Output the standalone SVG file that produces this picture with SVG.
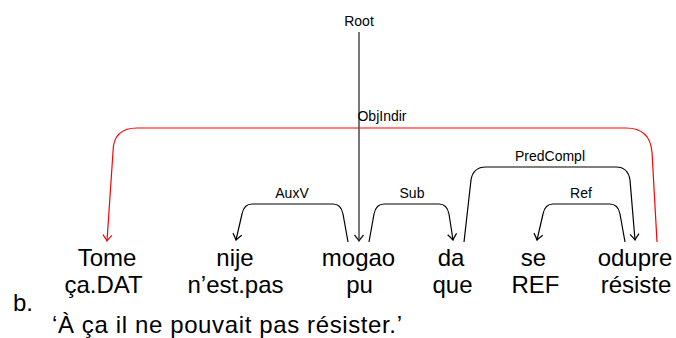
<svg xmlns="http://www.w3.org/2000/svg" width="676" height="338" viewBox="0 0 676 338">
<style>
.w{font-family:"Liberation Sans",Arial,sans-serif;font-size:24px;fill:#000;text-anchor:middle}
.l{font-family:"Liberation Sans",Arial,sans-serif;font-size:14px;fill:#000;text-anchor:middle}
.a{fill:none;stroke:#000;stroke-width:1.2;marker-end:url(#ab)}
.r{fill:none;stroke:#f00;stroke-width:1.2;marker-end:url(#ar)}
.g{fill:none;stroke:#555;stroke-width:1.6;marker-end:url(#ag)}
</style>
<defs>
<marker id="ab" markerUnits="userSpaceOnUse" markerWidth="14" markerHeight="14" viewBox="-8 -7 10 14" refX="0" refY="0" orient="auto" overflow="visible"><path d="M-6,-4.5 Q-2,-1.2 0,0 Q-2,1.2 -6,4.5" fill="none" stroke="#000" stroke-width="1.2"/></marker>
<marker id="ar" markerUnits="userSpaceOnUse" markerWidth="14" markerHeight="14" viewBox="-8 -7 10 14" refX="0" refY="0" orient="auto" overflow="visible"><path d="M-6,-4.5 Q-2,-1.2 0,0 Q-2,1.2 -6,4.5" fill="none" stroke="#f00" stroke-width="1.2"/></marker>
<marker id="ag" markerUnits="userSpaceOnUse" markerWidth="14" markerHeight="14" viewBox="-8 -7 10 14" refX="0" refY="0" orient="auto" overflow="visible"><path d="M-6,-4.5 Q-2,-1.2 0,0 Q-2,1.2 -6,4.5" fill="none" stroke="#222" stroke-width="1.3"/></marker>
</defs>
<g id="connectors">
<path class="r" d="M657,242 L652,152 Q650,128 626,128 L137,128 Q113,128 113,152 L107,241"/>
<path class="g" d="M359,32 L359,241"/>
<path class="a" d="M348,242 L343,214 Q341,204 333,204 L252,204 Q244,204 242,214 L236,240"/>
<path class="a" d="M369,242 L374,214 Q376,204 384,204 L439,204 Q447,204 449,214 L453,240"/>
<path class="a" d="M464,242 L471,180 Q473,167 486,167 L616,167 Q628,167 630,180 L635,240"/>
<path class="a" d="M625,242 L620,214 Q618,204 610,204 L553,204 Q545,204 543,214 L537,240"/>
<text class="l" x="359" y="26">Root</text>
<text class="l" x="382" y="121">ObjIndir</text>
<text class="l" x="292" y="198">AuxV</text>
<text class="l" x="412" y="198">Sub</text>
<text class="l" x="550" y="161">PredCompl</text>
<text class="l" x="581" y="198">Ref</text>
</g>
<g id="w1"><text class="w" x="107" y="266">Tome</text><text class="w" x="103.5" y="293">ça.DAT</text></g>
<g id="w2"><text class="w" x="235" y="266">nije</text><text class="w" x="235.5" y="293">n’est.pas</text></g>
<g id="w3"><text class="w" x="358.5" y="266">mogao</text><text class="w" x="359.5" y="293">pu</text></g>
<g id="w4"><text class="w" x="451" y="266">da</text><text class="w" x="452.5" y="293">que</text></g>
<g id="w5"><text class="w" x="533.5" y="266">se</text><text class="w" x="535.5" y="293">REF</text></g>
<g id="w6"><text class="w" x="635" y="266">odupre</text><text class="w" x="636" y="293">résiste</text></g>
<g id="example">
<text class="w" x="13" y="311" style="text-anchor:start">b.</text>
<text class="w" x="52" y="333" style="text-anchor:start" textLength="350" lengthAdjust="spacing">‘À ça il ne pouvait pas résister.’</text>
</g>
</svg>
